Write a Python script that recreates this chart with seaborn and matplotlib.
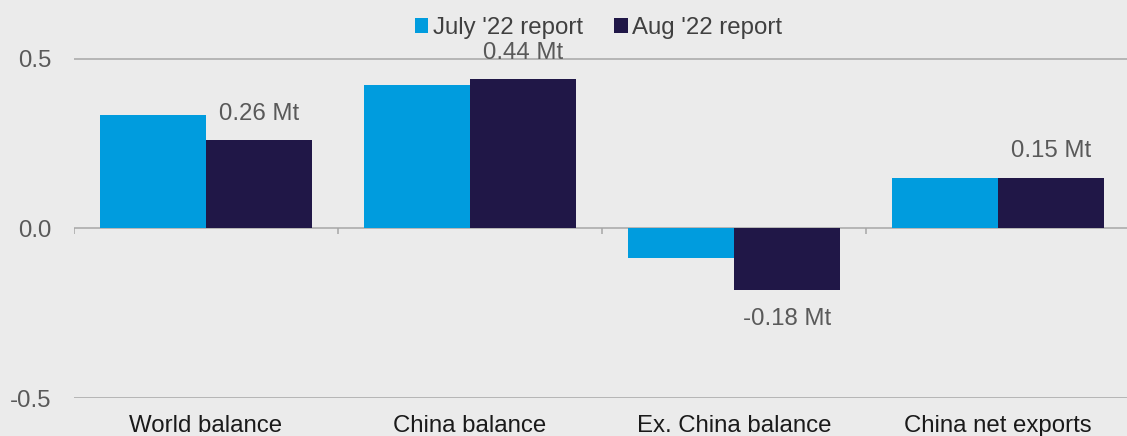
import matplotlib
matplotlib.use("Agg")
import matplotlib.pyplot as plt
import seaborn as sns
import pandas as pd

categories = ["World balance", "China balance", "Ex. China balance", "China net exports"]
series_names = ["July '22 report", "Aug '22 report"]
july_values = [0.335, 0.424, -0.088, 0.15]
aug_values = [0.26, 0.44, -0.18, 0.15]
aug_labels = ["0.26 Mt", "0.44 Mt", "-0.18 Mt", "0.15 Mt"]
y_ticks = [-0.5, 0.0, 0.5]

df = pd.DataFrame({
    "category": categories * 2,
    "series": [series_names[0]] * 4 + [series_names[1]] * 4,
    "value": july_values + aug_values,
})

sns.set_theme(style="white")
plt.rcParams["font.family"] = ["Liberation Sans", "DejaVu Sans"]

bg = "#ebebeb"
fig = plt.figure(figsize=(11.27, 4.36), dpi=100, facecolor=bg)
ax = fig.add_axes([74 / 1127, 38 / 436, 1056 / 1127, 398 / 436])
ax.set_facecolor(bg)

palette = {series_names[0]: "#009cde", series_names[1]: "#201747"}
sns.barplot(data=df, x="category", y="value", hue="series", order=categories,
            hue_order=series_names, palette=palette, width=0.8, saturation=1,
            edgecolor="none", linewidth=0, ax=ax, zorder=3)

ax.set_xlim(-0.5, len(categories) - 0.5)
ax.set_ylim(-0.5, 0.674)
ax.set_yticks(y_ticks)
ax.set_yticklabels([f"{v:.1f}" for v in y_ticks])
ax.yaxis.grid(True, color="#a6a6a6", linewidth=1.1, zorder=1)
ax.xaxis.grid(False)
for s in ax.spines.values():
    s.set_visible(False)
ax.tick_params(axis="y", length=0, pad=16, labelsize=17.3, labelcolor="#595959")
ax.tick_params(axis="x", length=0, pad=12, labelsize=17.3, labelcolor="#1a1a1a")
ax.set_xlabel("")
ax.set_ylabel("")

# boundary tick marks on zero line
for b in range(len(categories)):
    ax.vlines(b - 0.5, -0.016, 0, color="#a6a6a6", linewidth=1.1, zorder=2)

# labels on Aug bars
aug_container = ax.containers[1]
for bar, lab, v in zip(aug_container, aug_labels, aug_values):
    x = bar.get_x() + bar.get_width() / 2
    if v >= 0:
        ax.annotate(lab, (x, v), xytext=(0, 11), textcoords="offset points",
                    ha="center", va="bottom", fontsize=17.3, color="#595959", zorder=5)
    else:
        ax.annotate(lab, (x, v), xytext=(0, -13), textcoords="offset points",
                    ha="center", va="top", fontsize=17.3, color="#595959", zorder=5)

leg = ax.legend(loc="upper center", bbox_to_anchor=(0.497, 1.012), ncol=2, frameon=False,
                fontsize=17.3, handlelength=0.55, handleheight=0.55, handletextpad=0.2,
                columnspacing=1.3, labelcolor="#404040")

fig.savefig("out.png", dpi=100, facecolor=bg)
